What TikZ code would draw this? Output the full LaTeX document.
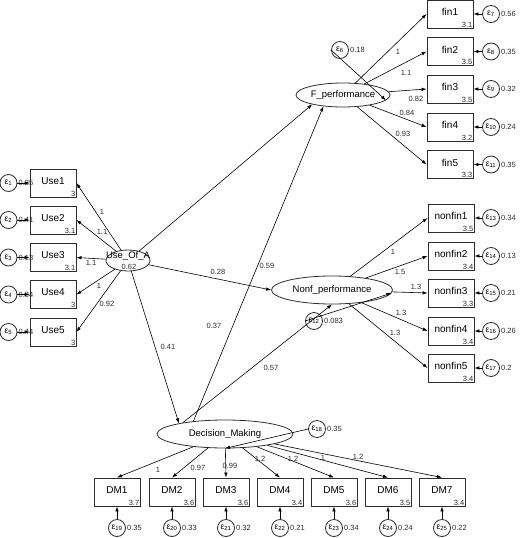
\documentclass[tikz,border=0pt]{standalone}
\usepackage{fontspec}
\setmainfont{Liberation Sans}
\usetikzlibrary{arrows.meta,shapes.geometric}
\definecolor{lineGray}{RGB}{45,45,45}
\newcommand\epsl[1]{ε\textsubscript{#1}}
\tikzset{
  obs/.style={draw=lineGray, line width=0.9pt, minimum width=46pt, minimum height=28pt,
    inner sep=0pt, font=\fontsize{10}{10}\selectfont, text depth=4pt},
  lat/.style={draw=lineGray, line width=0.8pt, ellipse, inner sep=0pt},
  lattext/.style={font=\fontsize{9.5}{10}\selectfont, inner sep=0pt},
  err/.style={draw=lineGray, line width=0.8pt, circle, minimum size=17pt, inner sep=0pt,
    font=\fontsize{8.5}{8.5}\selectfont},
  coef/.style={font=\fontsize{7.5}{8}\selectfont, inner sep=1pt, text=lineGray},
  icpt/.style={label={[coef, anchor=south east]south east:#1}},
  ev/.style={label={[coef]east:#1}},
  arr/.style={line width=0.6pt, -{Latex[length=5pt,width=3.5pt]}},
}

\begin{document}
\begin{tikzpicture}[x=1pt,y=-1pt]
  \useasboundingbox (0,0) rectangle (520,538);

  % latent variables
  \node[lat, minimum width=44pt, minimum height=21pt] (useA) at (128,260.5) {};
  \node[lattext] (useAt) at (128,256.5) {Use\_Of\_A};
  \node[coef] (useAv) at (129,267) {0.62};
  \node[lat, minimum width=94pt, minimum height=24pt] (fperf) at (343,95) {};
  \node[lattext] (fperft) at (fperf) {F\_performance};
  \node[lat, minimum width=121pt, minimum height=28pt] (nonf) at (332,290) {};
  \node[lattext] (nonft) at (nonf) {Nonf\_performance};
  \node[lat, minimum width=136pt, minimum height=28pt] (dm) at (225,434) {};
  \node[lattext] (dmt) at (dm) {Decision\_Making};

  % Use_Of_A indicators
  \foreach \nn/\yy/\ic/\ev/\ld/\lx/\ly in {1/183/3/0.35/1/102/212, 2/220/3.1/0.41/1.1/102/232,
      3/257.5/3.1/0.13/1.1/91/263, 4/294.5/3/0.34/1/99/286, 5/332/3/0.44/0.92/107/304}{
    \node[obs, icpt=\ic] (use\nn) at (53,\yy) {Use\nn};
    \node[err, ev=\ev] (e\nn) at (8.5,\yy) {\epsl{\nn}};
    \draw[arr] (e\nn) -- (use\nn);
    \draw[arr] (useA) -- (use\nn.east);
    \node[coef] (cu\nn) at (\lx,\ly) {\ld};
  }

  % F_performance indicators
  \foreach \nn/\yy/\ic/\en/\ev/\ld/\lx/\ly in {1/14/3.1/7/0.56/1/398/52, 2/51.5/3.5/8/0.35/1.1/406/73,
      3/89/3.5/9/0.32/0.82/416/99, 4/127/3.2/10/0.24/0.84/407/113, 5/164.5/3.3/11/0.35/0.93/403/134}{
    \node[obs, icpt=\ic] (fin\nn) at (450,\yy) {fin\nn};
    \node[err, ev=\ev] (e\en) at (491,\yy) {\epsl{\en}};
    \draw[arr] (e\en) -- (fin\nn);
    \draw[arr] (fperf) -- (fin\nn.west);
    \node[coef] (cf\nn) at (\lx,\ly) {\ld};
  }

  % Nonf_performance indicators
  \foreach \nn/\yy/\ic/\en/\ev/\ld/\lx/\ly in {1/218/3.5/13/0.34/1/393/252, 2/256/3.4/14/0.13/1.5/400/272,
      3/293/3.3/15/0.21/1.3/416/287, 4/331/3.4/16/0.26/1.3/401/313, 5/368/3.4/17/0.2/1.3/395/333}{
    \node[obs, icpt=\ic] (nonfin\nn) at (451,\yy) {nonfin\nn};
    \node[err, ev=\ev] (e\en) at (491,\yy) {\epsl{\en}};
    \draw[arr] (e\en) -- (nonfin\nn);
    \draw[arr] (nonf) -- (nonfin\nn.west);
    \node[coef] (cn\nn) at (\lx,\ly) {\ld};
  }

  % Decision_Making indicators
  \foreach \nn/\xx/\ic/\en/\ev/\ld/\lx/\ly in {1/117/3.7/19/0.35/1/158/470, 2/172/3.6/20/0.33/0.97/198/468,
      3/226/3.6/21/0.32/0.99/230/466, 4/280/3.4/22/0.21/1.2/260/459, 5/334/3.6/23/0.34/1.2/293/459,
      6/388/3.5/24/0.24/1/323/458, 7/442/3.4/25/0.22/1.2/358/457}{
    \node[obs, icpt=\ic] (dm\nn) at (\xx,492) {DM\nn};
    \node[err, ev=\ev] (e\en) at (\xx,528) {\epsl{\en}};
    \draw[arr] (e\en) -- (dm\nn);
    \draw[arr] (dm) -- (dm\nn.north);
    \node[coef] (cd\nn) at (\lx,\ly) {\ld};
  }

  % disturbances
  \node[err, ev=0.18] (e6) at (340,50) {\epsl{6}};
  \node[err, ev=0.083] (e12) at (314,321) {\epsl{12}};
  \node[err, ev=0.35] (e18) at (317,429) {\epsl{18}};
  \draw[arr] (e6.west) -- (fperf.-7);
  \draw[arr] (e12.west) -- (nonf.-3);
  \draw[arr] (e18.west) -- (dm.south);

  % structural paths
  \draw[arr] (useA) -- (fperf.197);
  \draw[arr] (useA) -- (nonf.west);
  \draw[arr] (useA) -- (dm.167);
  \draw[arr] (dm.158) -- (fperf.210);
  \draw[arr] (dm.165) -- (nonf.south);
  \node[coef] (c37) at (214,326) {0.37};
  \node[coef] (c28) at (218,272) {0.28};
  \node[coef] (c41) at (168,347) {0.41};
  \node[coef] (c59) at (267,266) {0.59};
  \node[coef] (c57) at (271,368) {0.57};
\end{tikzpicture}
\end{document}
